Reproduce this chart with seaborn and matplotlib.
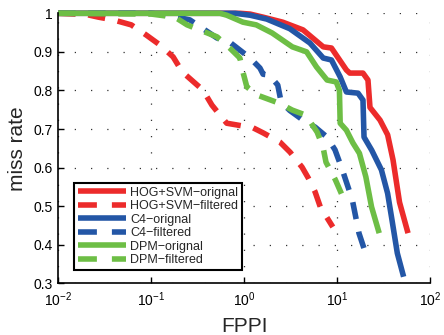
import matplotlib
matplotlib.use("Agg")
import matplotlib.pyplot as plt
import seaborn as sns
import pandas as pd
from matplotlib.ticker import FixedLocator, NullLocator
from matplotlib.lines import Line2D

# ---- data ----
hog_orig_x = [0.01, 0.9, 1.16, 1.6, 2.6, 4.3, 7.1, 8.7, 12.6, 13.7, 19.0, 21.5, 22.6, 29, 35, 40, 47, 58]
hog_orig_y = [1.0, 1.0, 0.998, 0.99, 0.977, 0.957, 0.913, 0.91, 0.853, 0.845, 0.845, 0.827, 0.756, 0.723, 0.685, 0.62, 0.51, 0.43]

hog_filt_x = [0.01, 0.02, 0.027, 0.039, 0.061, 0.088, 0.124, 0.172, 0.216, 0.296, 0.36, 0.45, 0.55, 0.65,
              0.86, 1.25, 1.6, 2.43, 3.12, 4.2, 4.9, 5.8, 6.6, 9.0]
hog_filt_y = [1.0, 0.997, 0.99, 0.983, 0.97, 0.944, 0.918, 0.887, 0.848, 0.819, 0.801, 0.762, 0.736, 0.715,
              0.71, 0.703, 0.69, 0.666, 0.640, 0.601, 0.573, 0.537, 0.498, 0.446]

c4_orig_x = [0.01, 0.8, 1.16, 1.75, 3.1, 5.1, 7.1, 8.7, 10.8, 12.6, 16.8, 19.0, 19.5, 23.6, 30, 35, 39, 44.5, 52]
c4_orig_y = [1.0, 1.0, 0.995, 0.985, 0.96, 0.923, 0.884, 0.879, 0.835, 0.796, 0.793, 0.775, 0.679, 0.645,
             0.594, 0.533, 0.464, 0.378, 0.317]

c4_filt_x = [0.01, 0.1, 0.15, 0.26, 0.51, 0.70, 1.16, 1.48, 1.6, 1.86, 2.3, 2.5, 3.1, 4.6, 5.8, 7.8, 9.5,
             11.4, 14.6, 17.2, 20.6]
c4_filt_y = [1.0, 1.0, 0.995, 0.983, 0.936, 0.925, 0.884, 0.858, 0.842, 0.840, 0.814, 0.770, 0.748, 0.718,
             0.705, 0.679, 0.646, 0.594, 0.516, 0.43, 0.373]

dpm_orig_x = [0.01, 0.55, 0.65, 0.97, 1.35, 2.0, 3.3, 4.7, 6.0, 7.8, 9.8, 10.6, 10.8, 12.6, 14.8, 17.4, 20.4, 23.5, 28.4]
dpm_orig_y = [1.0, 1.0, 0.995, 0.977, 0.97, 0.949, 0.913, 0.9, 0.861, 0.827, 0.822, 0.8, 0.715, 0.697,
              0.664, 0.637, 0.576, 0.498, 0.43]

dpm_filt_x = [0.01, 0.1, 0.18, 0.243, 0.51, 0.70, 0.90, 0.97, 1.07, 1.38, 2.38, 3.3, 4.6, 6.1, 7.06, 7.6,
              9.0, 9.6, 11.3]
dpm_filt_y = [1.0, 0.998, 0.99, 0.97, 0.939, 0.91, 0.884, 0.848, 0.809, 0.788, 0.767, 0.749, 0.736, 0.692,
              0.653, 0.614, 0.581, 0.568, 0.529]

labels = ["HOG+SVM\u2212orignal", "HOG+SVM\u2212filtered", "C4\u2212orignal",
          "C4\u2212filtered", "DPM\u2212orignal", "DPM\u2212filtered"]
x_ticks = [0.01, 0.1, 1, 10, 100]
y_ticks = [0.3, 0.4, 0.5, 0.6, 0.7, 0.8, 0.9, 1.0]
y_ticklabels = ["0.3", "0.4", "0.5", "0.6", "0.7", "0.8", "0.9", "1"]

RED, BLUE, GREEN = "#EC2B2B", "#2356A6", "#6DBE45"

sns.set_theme(style="white")
plt.rcParams["font.family"] = ["Liberation Sans", "DejaVu Sans"]
plt.rcParams["mathtext.fontset"] = "custom"
plt.rcParams["mathtext.rm"] = "Liberation Sans"
plt.rcParams["mathtext.it"] = "Liberation Sans"
plt.rcParams["mathtext.default"] = "regular"

fig = plt.figure(figsize=(4.44, 3.35), dpi=100)
ax = fig.add_axes([58.3 / 444, (335 - 283.3) / 335, (430 - 58.3) / 444, (283.3 - 13.3) / 335])

series = [
    (hog_orig_x, hog_orig_y, RED, False),
    (hog_filt_x, hog_filt_y, RED, True),
    (c4_orig_x, c4_orig_y, BLUE, False),
    (c4_filt_x, c4_filt_y, BLUE, True),
    (dpm_orig_x, dpm_orig_y, GREEN, False),
    (dpm_filt_x, dpm_filt_y, GREEN, True),
]
lw = 4.0
dash = (3.1, 2.3)
handles = []
for (xs, ys, col, dashed), lab in zip(series, labels):
    df = pd.DataFrame({"FPPI": xs, "miss": ys})
    sns.lineplot(data=df, x="FPPI", y="miss", ax=ax, color=col, linewidth=lw,
                 sort=False, estimator=None, legend=False)
    ln = ax.lines[-1]
    ln.set_clip_on(False)
    ln.set_solid_capstyle("butt")
    ln.set_dash_capstyle("butt")
    if dashed:
        ln.set_dashes(dash)
    h = Line2D([], [], color=col, linewidth=lw, solid_capstyle="butt", dash_capstyle="butt")
    if dashed:
        h.set_dashes((3.4, 2.7))
    handles.append(h)

ax.set_xscale("log")
ax.set_xlim(0.01, 100)
ax.set_ylim(0.3, 1.0)
ax.xaxis.set_major_locator(FixedLocator(x_ticks))
ax.xaxis.set_minor_locator(NullLocator())
ax.set_yticks(y_ticks)
ax.set_yticklabels(y_ticklabels)

ax.grid(True, which="major", color="#333333", linestyle=(0, (1, 12)), linewidth=0.9)
ax.tick_params(axis="both", which="major", direction="in", length=4, width=1, labelsize=10,
               colors="black", pad=4, bottom=True, left=True)
ax.tick_params(axis="x", which="major", pad=5)

for s in ["top", "right"]:
    ax.spines[s].set_visible(False)
for s in ["left", "bottom"]:
    ax.spines[s].set_color("black")
    ax.spines[s].set_linewidth(1.2)

ax.set_xlabel("FPPI", fontsize=15, labelpad=6)
ax.set_ylabel("miss rate", fontsize=15, labelpad=5)

leg = ax.legend(handles, labels, loc="lower left", bbox_to_anchor=(0.042, 0.049), borderaxespad=0,
                fontsize=9, frameon=True, fancybox=False, handlelength=3.9, handletextpad=0.3,
                labelspacing=0.12, borderpad=0.3, edgecolor="black", framealpha=1)
leg.get_frame().set_linewidth(1.5)

fig.savefig("out.png", dpi=100)
